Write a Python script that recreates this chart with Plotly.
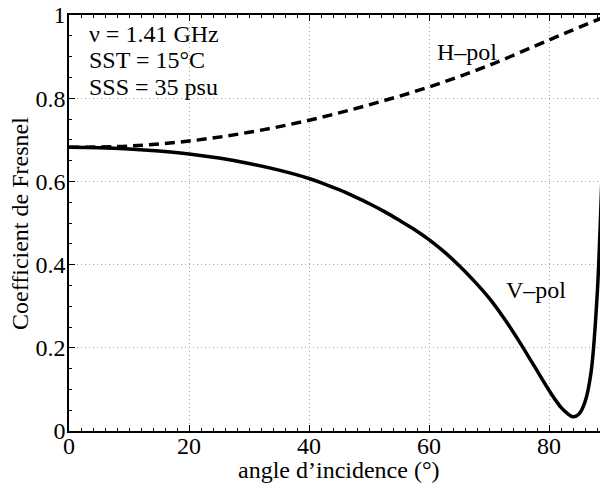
import plotly.graph_objects as go

# angle of incidence (deg) and Fresnel coefficient magnitudes
angle_h = [0, 10, 20, 30, 40, 50, 60, 70, 80, 85, 90]
h_pol = [0.682, 0.685, 0.697, 0.718, 0.747, 0.784, 0.827, 0.879, 0.940, 0.970, 1.0]

angle_v = [0, 5, 10, 15, 20, 25, 30, 35, 40, 42.5, 45, 47.5, 50, 52.5, 55, 57.5,
           60, 62.5, 65, 67.5, 70, 72.5, 75, 77.5, 80, 81, 82, 83, 84, 85, 86, 87,
           88, 88.5, 89, 90]
v_pol = [0.682, 0.681, 0.678, 0.673, 0.666, 0.656, 0.643, 0.627, 0.607, 0.594,
         0.580, 0.564, 0.547, 0.528, 0.507, 0.485, 0.460, 0.431, 0.398, 0.361,
         0.320, 0.271, 0.216, 0.157, 0.098, 0.076, 0.057, 0.043, 0.034, 0.041,
         0.070, 0.140, 0.320, 0.480, 0.680, 1.0]

x_ticks = [0, 20, 40, 60, 80]
y_ticks = [0, 0.2, 0.4, 0.6, 0.8, 1]

FONT = "Liberation Serif, Times New Roman, serif"
FS = 24

fig = go.Figure()
fig.add_trace(go.Scatter(x=angle_v, y=v_pol, mode="lines", line_shape="spline",
                         line=dict(color="black", width=3.5), name="V-pol"))
fig.add_trace(go.Scatter(x=angle_h, y=h_pol, mode="lines", line_shape="spline",
                         line=dict(color="black", width=3.5, dash="10px,6px"), name="H-pol"))

# text labels
notes = ["\u03bd = 1.41 GHz", "SST = 15\u00b0C", "SSS = 35 psu"]
for i, txt in enumerate(notes):
    fig.add_annotation(x=3.0, y=0.955 - i * 0.064, text=txt, showarrow=False,
                       xanchor="left", yanchor="middle",
                       font=dict(family=FONT, size=FS, color="black"))
fig.add_annotation(x=66.3, y=0.911, text="H\u2013pol", showarrow=False,
                   font=dict(family=FONT, size=FS, color="black"))
fig.add_annotation(x=77.9, y=0.339, text="V\u2013pol", showarrow=False,
                   font=dict(family=FONT, size=FS, color="black"))

# axis titles
fig.add_annotation(xref="paper", yref="paper", x=0.508, y=-0.093,
                   text="angle d\u2019incidence (\u00b0)", showarrow=False,
                   xanchor="center", yanchor="middle",
                   font=dict(family=FONT, size=FS, color="black"))
fig.add_annotation(xref="paper", yref="paper", x=-0.092, y=0.498,
                   text="Coefficient de Fresnel", showarrow=False, textangle=-90,
                   xanchor="center", yanchor="middle",
                   font=dict(family=FONT, size=FS, color="black"))

axis_common = dict(
    showline=True, linecolor="black", linewidth=1.5,
    ticks="inside", ticklen=6, tickcolor="black", tickwidth=1,
    showgrid=True, gridcolor="#a8a8a8", griddash="1px,3px", gridwidth=1,
    zeroline=False,
    tickfont=dict(family=FONT, size=FS, color="black"),
)

fig.update_layout(
    width=600, height=484,
    margin=dict(l=69, r=0, t=15, b=53),
    paper_bgcolor="white", plot_bgcolor="white",
    showlegend=False,
    xaxis=dict(axis_common, range=[0, 88.5], tickvals=x_ticks, mirror="ticks",
               ticklabelstandoff=-8,
               minor=dict(dtick=2, ticklen=3, ticks="inside", tickcolor="black", showgrid=False)),
    yaxis=dict(axis_common, range=[0, 1], tickvals=y_ticks,
               ticktext=["0", "0.2", "0.4", "0.6", "0.8", "1"],
               ticklabelstandoff=-3,
               minor=dict(dtick=0.05, ticklen=3, ticks="inside", tickcolor="black", showgrid=False)),
)

fig.write_html("out.html", config={"displayModeBar": False},
               post_script="document.body.style.margin='0';")
